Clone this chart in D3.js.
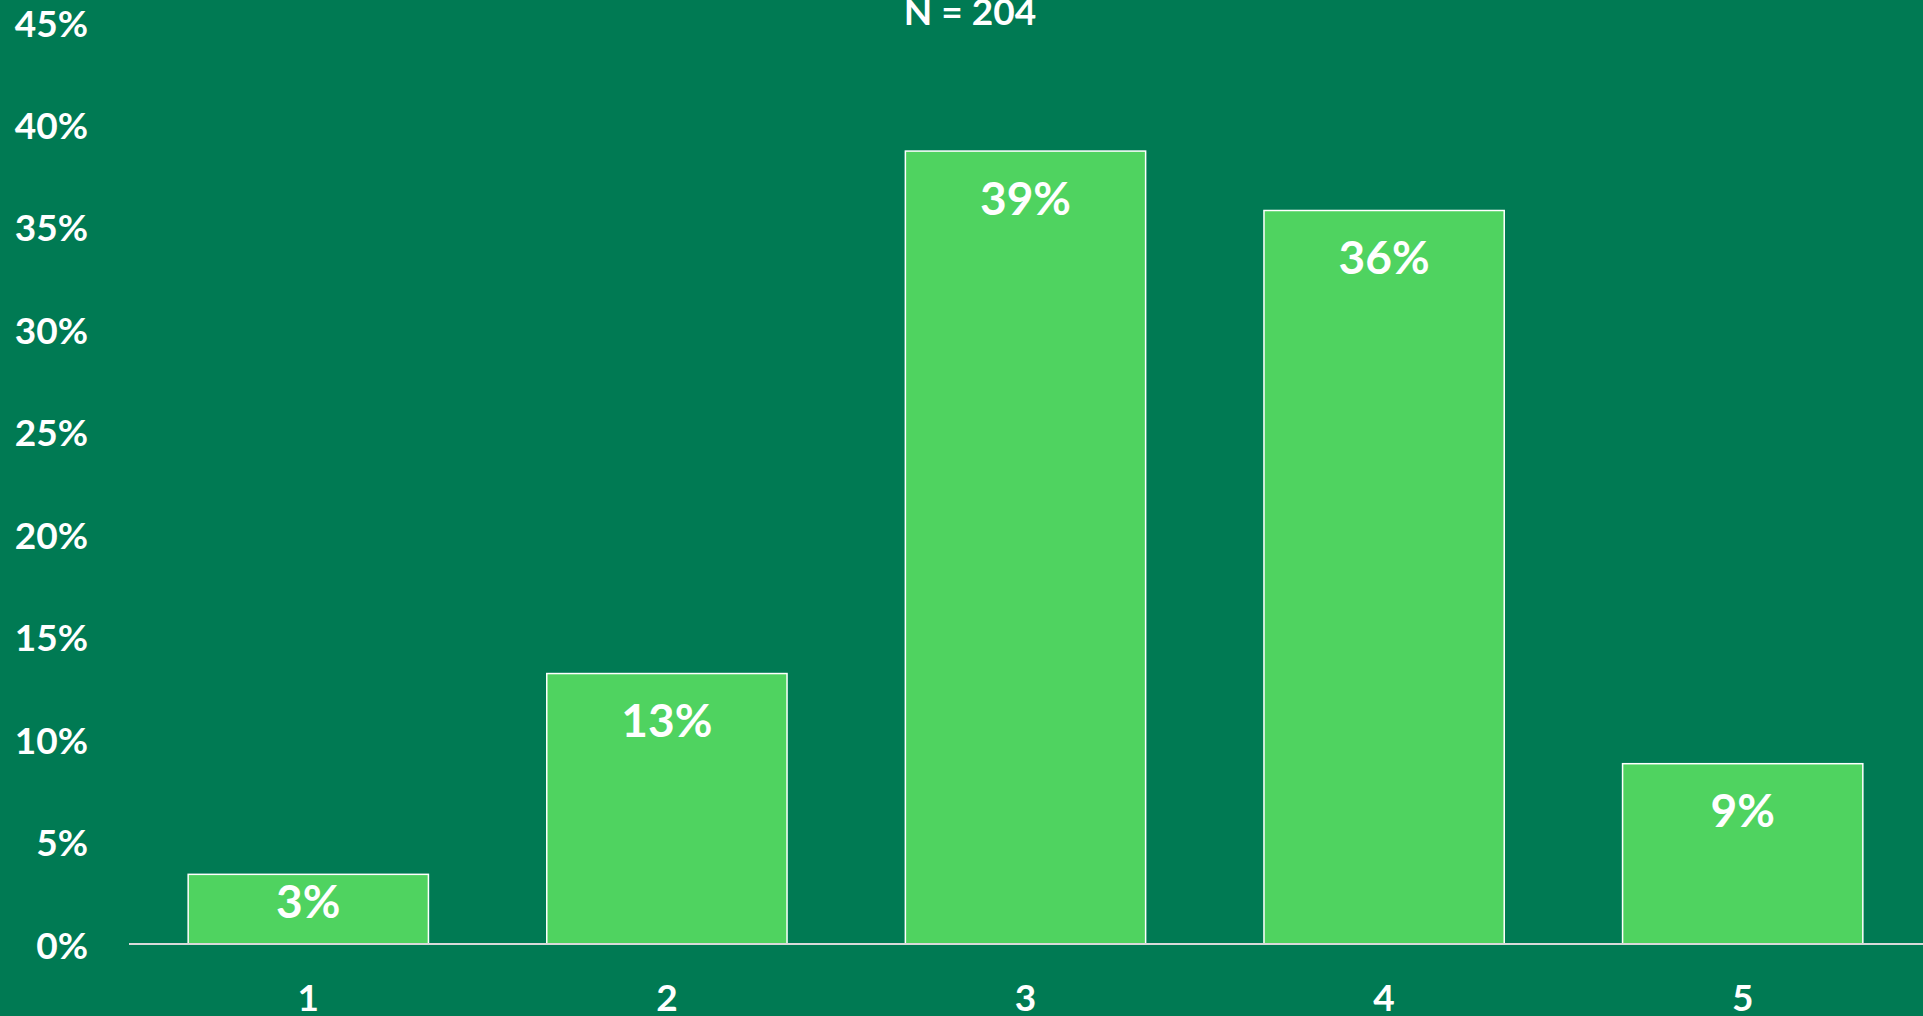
<!DOCTYPE html>
<html>
<head>
<meta charset="utf-8">
<script src="https://cdn.jsdelivr.net/npm/d3@7"></script>
<style>
  html, body { margin: 0; padding: 0; background: #007A53; overflow: hidden; }
  svg { display: block; }
  text { font-family: Lato, "Open Sans", sans-serif; font-weight: 700; fill: #ffffff; }
</style>
</head>
<body>
<svg id="chart" width="1923" height="1016"></svg>
<script>
const categories = ["1", "2", "3", "4", "5"];
const values = [3.4, 13.2, 38.7, 35.8, 8.8];
const valueLabels = ["3%", "13%", "39%", "36%", "9%"];
const yTicks = [0, 5, 10, 15, 20, 25, 30, 35, 40, 45];
const title = "N = 204";

const W = 1923, H = 1016;
const svg = d3.select("#chart");
svg.append("rect").attr("width", W).attr("height", H).attr("fill", "#007A53");

const x = d3.scaleBand().domain(categories).range([129, 1922])
  .paddingInner(0.33).paddingOuter(0.165);
const y = d3.scaleLinear().domain([0, 45]).range([944, 22]);

// y tick labels
svg.append("g").selectAll("text").data(yTicks).join("text")
  .attr("x", 88).attr("y", d => y(d))
  .attr("text-anchor", "end").attr("dominant-baseline", "central")
  .style("font-size", "37px")
  .text(d => d + "%");

// bars
svg.append("g").selectAll("rect").data(values).join("rect")
  .attr("x", (d, i) => x(categories[i]))
  .attr("y", d => y(d))
  .attr("width", x.bandwidth())
  .attr("height", d => y(0) - y(d))
  .attr("fill", "#4FD360")
  .attr("stroke", "#ffffff")
  .attr("stroke-width", 1.5);

// axis line
const xAxis = d3.axisBottom(x).tickSize(0).tickPadding(0);
const gx = svg.append("g").attr("transform", `translate(0,${y(0)})`).call(xAxis);
gx.select(".domain").attr("stroke", "#D9D9D9").attr("stroke-width", 2).attr("d", "M129,0H1923");
gx.selectAll(".tick text")
  .attr("y", 67).attr("dy", 0)
  .style("font-size", "37px").style("font-family", "Lato, sans-serif").style("font-weight", 700)
  .attr("fill", "#ffffff");

// value labels
svg.append("g").selectAll("text").data(values).join("text")
  .attr("x", (d, i) => x(categories[i]) + x.bandwidth() / 2)
  .attr("y", d => y(d) + Math.min(46, (y(0) - y(d)) * 0.38))
  .attr("text-anchor", "middle").attr("dominant-baseline", "central")
  .style("font-size", "46px")
  .text((d, i) => valueLabels[i]);

// title
svg.append("text").attr("x", 970).attr("y", 25)
  .attr("text-anchor", "middle")
  .style("font-size", "37px")
  .text(title);
</script>
</body>
</html>
